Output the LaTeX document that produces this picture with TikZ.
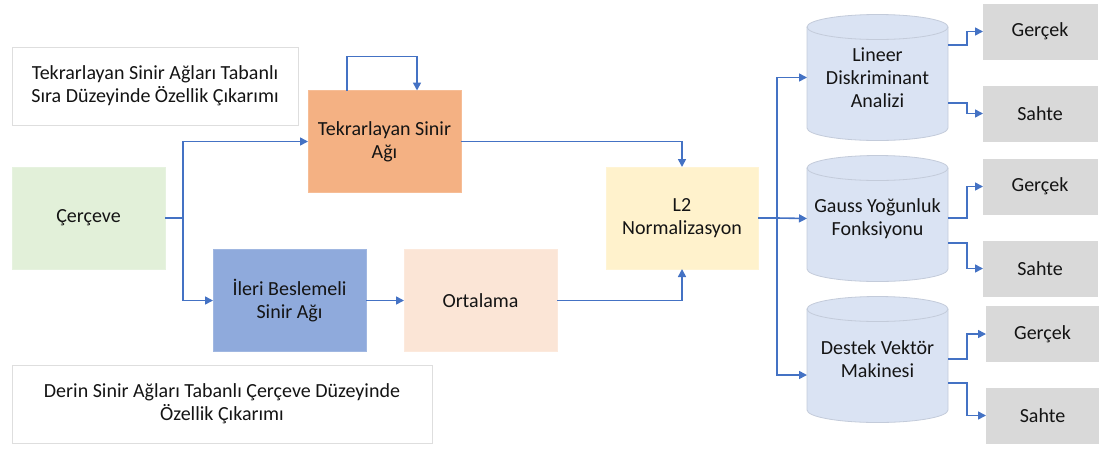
\documentclass[tikz,border=0pt]{standalone}
\usepackage{fontspec}
\setmainfont{Carlito}
\usetikzlibrary{arrows.meta,calc,backgrounds}

\definecolor{link}{HTML}{4472C4}
\definecolor{txt}{HTML}{141414}
\definecolor{frameC}{HTML}{E2F0D9}
\definecolor{rnnC}{HTML}{F4B183}
\definecolor{dnnC}{HTML}{8FAADC}
\definecolor{avgC}{HTML}{FBE5D6}
\definecolor{normC}{HTML}{FFF2CC}
\definecolor{cylC}{HTML}{DAE3F3}
\definecolor{cylEdge}{HTML}{C3CBDA}
\definecolor{outC}{HTML}{D9D9D9}

\tikzset{
  lbl/.style={font=\fontsize{20}{23}\selectfont, text=txt, align=center},
  block/.style={lbl, rectangle, fill=#1, draw=#1!85!white, line width=0.8pt,
                inner sep=0pt, outer sep=0pt, minimum width=153pt, minimum height=102pt},
  caption/.style={lbl, rectangle, draw=black!13, fill=white, line width=0.8pt,
                  inner sep=0pt, outer sep=0pt, minimum height=78pt},
  result/.style={lbl, rectangle, fill=outC, draw=outC, inner sep=0pt, outer sep=0pt,
                 minimum width=114pt, minimum height=55pt},
  cylnode/.style={lbl, rectangle, inner sep=0pt, outer sep=0pt,
                  minimum width=141pt, minimum height=126pt},
  cylfill/.style={fill=cylC, draw=cylEdge, line width=0.8pt},
  wire/.style={draw=link, line width=1.6pt},
  arr/.style={wire, -{Triangle[length=8pt,width=8pt]}},
}

% cylinder body drawn behind a named node
\newcommand\drawcyl[1]{%
  \begin{pgfonlayer}{background}
    \path[cylfill] ($(#1.north west)+(0,12.5)$) -- ($(#1.south west)+(0,-12.5)$)
      arc[start angle=180, end angle=360, x radius=70.5pt, y radius=12.5pt]
      -- ($(#1.north east)+(0,12.5)$)
      arc[start angle=0, end angle=180, x radius=70.5pt, y radius=12.5pt] -- cycle;
    \draw[cylEdge, line width=0.8pt] ($(#1.north west)+(0,12.5)$)
      arc[start angle=180, end angle=360, x radius=70.5pt, y radius=12.5pt];
  \end{pgfonlayer}}

\begin{document}
\begin{tikzpicture}[x=1pt, y=-1pt]
  \useasboundingbox (0,0) rectangle (1099,448);

  % captions
  \node[caption, minimum width=286pt] (cap1) at (155,86)
    {Tekrarlayan Sinir Ağları Tabanlı\\Sıra Düzeyinde Özellik Çıkarımı};
  \node[caption, minimum width=420pt] (cap2) at (222,404)
    {Derin Sinir Ağları Tabanlı Çerçeve Düzeyinde\\Özellik Çıkarımı};

  % processing blocks
  \node[block=frameC] (frame) at (88.5,218) {Çerçeve};
  \node[block=rnnC] (rnn) at (384.5,141.5) {Tekrarlayan Sinir\\Ağı};
  \node[block=dnnC] (dnn) at (289.5,300.5) {İleri Beslemeli\\Sinir Ağı};
  \node[block=avgC] (avg) at (480.5,300.5) {Ortalama};
  \node[block=normC, minimum width=152pt] (norm) at (682,218) {L2\\Normalizasyon};

  % classifiers
  \node[cylnode] (lda) at (877.5,77.5) {Lineer\\Diskriminant\\Analizi};
  \node[cylnode] (gmm) at (877.5,218.5) {Gauss Yoğunluk\\Fonksiyonu};
  \node[cylnode] (svm) at (877.5,359.5) {Destek Vektör\\Makinesi};
  \drawcyl{lda}
  \drawcyl{gmm}
  \drawcyl{svm}

  % decisions
  \node[result] (r1) at (1040,31.5) {Gerçek};
  \node[result] (f1) at (1040,113.5) {Sahte};
  \node[result] (r2) at (1040,186.5) {Gerçek};
  \node[result] (f2) at (1040,268.5) {Sahte};
  \node[result, minimum width=113pt] (r3) at (1042.5,334) {Gerçek};
  \node[result, minimum width=113pt] (f3) at (1042.5,415.5) {Sahte};

  % feature extraction flow
  \coordinate (split) at ($(frame.east)+(18,0)$);
  \draw[wire] (frame.east) -- (split);
  \draw[arr] (split) |- (rnn.west);
  \draw[arr] (split) |- (dnn.west);
  \draw[arr] ($(rnn.north)+(-37.5,0)$) -- ++(0,-34) -| ($(rnn.north)+(32.5,0)$);
  \draw[arr] (dnn.east) -- (avg.west);
  \draw[arr] (rnn.east) -| (norm.north);
  \draw[arr] (avg.east) -| (norm.south);

  % distribution to classifiers
  \coordinate (fan) at ($(norm.east)+(19,0)$);
  \draw[wire] (norm.east) -- (fan);
  \draw[arr] (fan) |- (lda.west);
  \draw[arr] (fan) -- (gmm.west);
  \draw[arr] (fan) |- ($(svm.west)+(0,15.5)$);

  % classifier outputs
  \draw[arr] ($(lda.east)+(0,-32.5)$) -- ++(19,0) |- (r1.west);
  \draw[arr] ($(lda.east)+(0,25.5)$) -- ++(19,0) |- (f1.west);
  \draw[arr] ($(gmm.east)+(0,-0.5)$) -- ++(19,0) |- (r2.west);
  \draw[arr] ($(gmm.east)+(0,24.5)$) -- ++(19,0) |- (f2.west);
  \draw[arr] ($(svm.east)+(0,-0.5)$) -- ++(19,0) |- (r3.west);
  \draw[arr] ($(svm.east)+(0,23.5)$) -- ++(19,0) |- (f3.west);
\end{tikzpicture}
\end{document}
